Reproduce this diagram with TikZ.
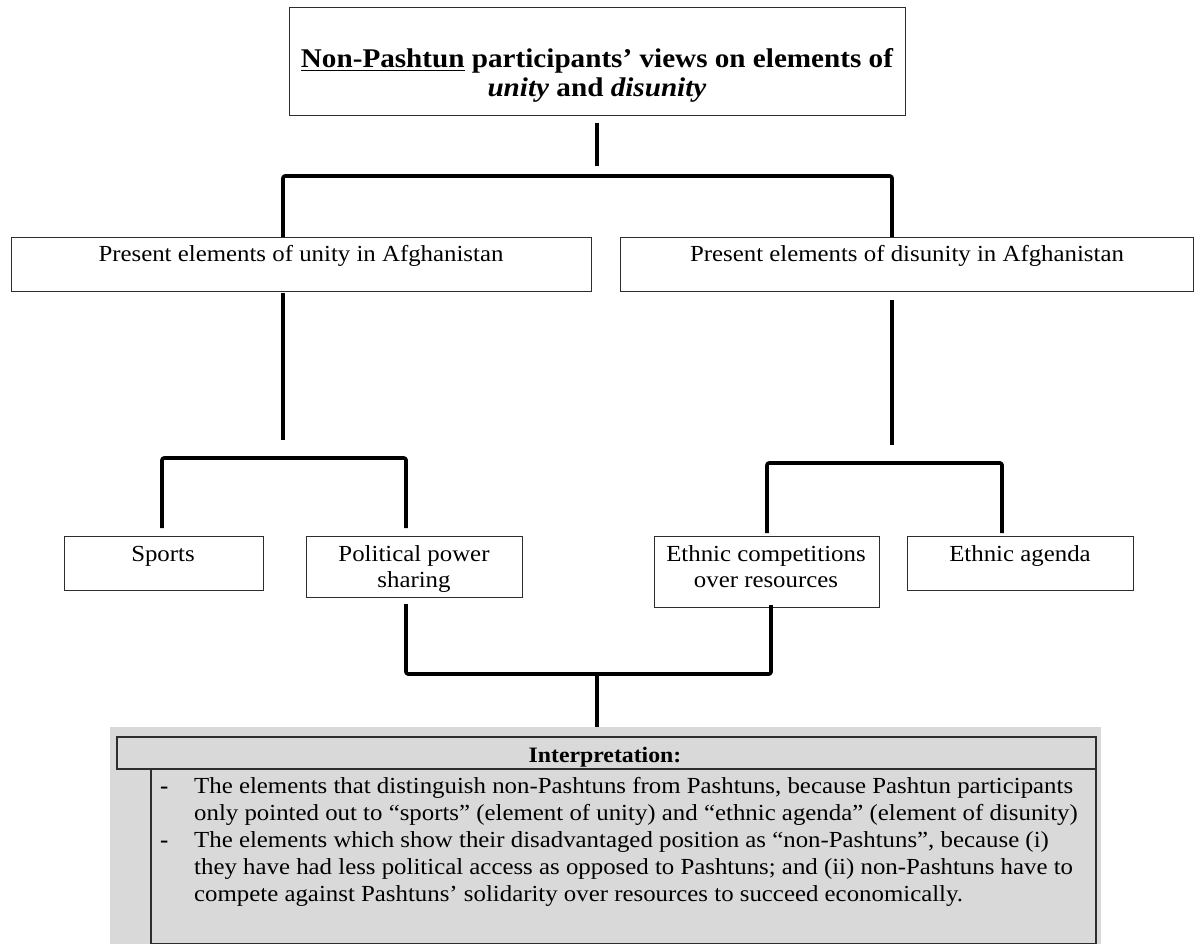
\documentclass[tikz,border=0pt]{standalone}
\usepackage{fontspec}
\setmainfont{Liberation Serif}[FakeStretch=1.08]
\definecolor{panel}{RGB}{217,217,217}
\definecolor{edge}{RGB}{45,45,45}
\begin{document}
\begin{tikzpicture}[x=1pt,y=-1pt,
  box/.style={draw=edge, line width=1.2pt, fill=white, inner sep=0pt, anchor=north west},
  conn/.style={line width=3.6pt, line join=round, rounded corners=2pt},
  lbl/.style={inner sep=0pt, anchor=base, align=center, font=\fontsize{23}{26}\selectfont},
  body/.style={inner sep=0pt, anchor=base west, align=left, font=\fontsize{23}{27}\selectfont},
]
\useasboundingbox (0,0) rectangle (1195,944);

% ---- boxes ----
\node[box, minimum width=616pt, minimum height=108pt] (title) at (289,7) {};
\node[box, minimum width=580pt, minimum height=54pt] (unity) at (11,237) {};
\node[box, minimum width=573pt, minimum height=54pt] (disunity) at (620,237) {};
\node[box, minimum width=199pt, minimum height=54pt] (sports) at (64,536) {};
\node[box, minimum width=216pt, minimum height=61pt] (power) at (306,536) {};
\node[box, minimum width=225pt, minimum height=71pt] (comp) at (654,536) {};
\node[box, minimum width=226pt, minimum height=54pt] (agenda) at (907,536) {};

% ---- interpretation panel ----
\node[fill=panel, inner sep=0pt, anchor=north west, minimum width=991pt, minimum height=217pt] (panel) at (110,727) {};
\node[box, fill=panel, line width=1.5pt, minimum width=979pt, minimum height=32pt] (head) at (116,736) {};
\node[box, fill=panel, line width=1.5pt, minimum width=945pt, minimum height=175pt] (bodybox) at (150,768) {};

% ---- texts (multi-line nodes are placed by the baseline of their last line) ----
\node[lbl, font=\bfseries\fontsize{27}{29}\selectfont] (titleT) at (597,97)
  {\underline{Non-Pashtun} participants’ views on elements of\\ \textit{unity} and \textit{disunity}};
\node[lbl] (unityT) at (301,262) {Present elements of unity in Afghanistan};
\node[lbl] (disunityT) at (907,262) {Present elements of disunity in Afghanistan};
\node[lbl] (sportsT) at (163,561) {Sports};
\node[lbl] (powerT) at (414,587) {Political power\\ sharing};
\node[lbl] (compT) at (766,587) {Ethnic competitions\\ over resources};
\node[lbl] (agendaT) at (1020,561) {Ethnic agenda};
\node[lbl, font=\bfseries\fontsize{22}{26}\selectfont] (headT) at (605,762) {Interpretation:};

\node[body] (dashA) at (160,793) {\textbf{-}};
\node[body] (dashB) at (160,847) {\textbf{-}};
\node[body] (itemA) at (194,820)
  {The elements that distinguish non-Pashtuns from Pashtuns, because Pashtun participants\\
   only pointed out to “sports” (element of unity) and “ethnic agenda” (element of disunity)};
\node[body] (itemB) at (194,901)
  {The elements which show their disadvantaged position as “non-Pashtuns”, because (i)\\
   they have had less political access as opposed to Pashtuns; and (ii) non-Pashtuns have to\\
   compete against Pashtuns’ solidarity over resources to succeed economically.};

% ---- connectors ----
\coordinate (t0) at (597,123);
\coordinate (t1) at (597,166);
\coordinate (b1l) at (283,176);
\coordinate (b1r) at (892,176);
\coordinate (u0) at (283,293);
\coordinate (u1) at (283,440);
\coordinate (b2l) at (162,458);
\coordinate (b2r) at (406,458);
\coordinate (s0) at (162,528);
\coordinate (p0) at (406,528);
\coordinate (d0) at (892,300);
\coordinate (d1) at (892,445);
\coordinate (b3l) at (767,463);
\coordinate (b3r) at (1002,463);
\coordinate (c0) at (767,533);
\coordinate (a0) at (1002,533);
\coordinate (pb) at (406,604);
\coordinate (cb) at (771,605);
\coordinate (b4l) at (406,674);
\coordinate (b4r) at (771,674);
\coordinate (b4m) at (597,674);

\draw[conn] (t0) -- (t1);
\draw[conn] (b1l |- unity.north) -- (b1l) -- (b1r) -- (b1r |- disunity.north);
\draw[conn] (u0) -- (u1);
\draw[conn] (s0) -- (b2l) -- (b2r) -- (p0);
\draw[conn] (d0) -- (d1);
\draw[conn] (c0) -- (b3l) -- (b3r) -- (a0);
\draw[conn] (pb) -- (b4l) -- (b4r) -- (cb);
\draw[conn] (b4m) -- (b4m |- panel.north);
\end{tikzpicture}
\end{document}
